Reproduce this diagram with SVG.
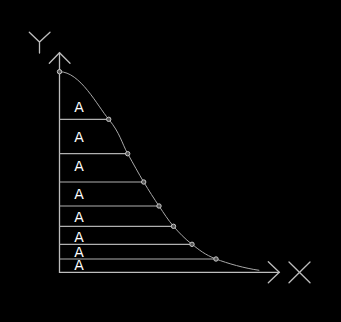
<svg xmlns="http://www.w3.org/2000/svg" width="341" height="322" viewBox="0 0 341 322">
<style>
.ax{stroke:#bdbdbd;stroke-width:1.3;fill:none;stroke-linecap:round}
.st{stroke:#b0b0b0;stroke-width:1.2;fill:none}
.cv{stroke:#a8a8a8;stroke-width:1;fill:none}
.pt{stroke:#c8c8c8;stroke-width:1;fill:#555}
.lb{font-family:"DejaVu Sans",sans-serif;font-size:14px;fill:#ffffff;text-anchor:middle}
</style>
<rect width="341" height="322" fill="#000"/>
<g id="axes">
<path class="ax" d="M59.5,52.7 V272.3 H279.3"/>
<path class="ax" d="M49.3,63.3 L59.5,52.7 L70,63.3"/>
<path class="ax" d="M268.3,261.7 L279.3,272.3 L268.3,282.7"/>
<path class="ax" d="M29.3,32.3 L39.5,42 L50,32.3 M39.5,42 V53"/>
<path class="ax" d="M289,262 L310,282.7 M310,262 L289,282.7"/>
</g>
<g id="strips">
<path class="st" d="M59.5,119.3H108.7 M59.5,153.7H127.7 M59.5,182H143.7 M59.5,206H159 M59.5,226.3H173.5 M59.5,244.3H192 M59.5,259H216"/>
</g>
<g id="curve">
<path class="cv" d="M59.5,71.7 C80,71.7 97.3,105.6 108.7,119.3 C120.07,132.97 121.87,143.25 127.7,153.7 C133.53,164.15 138.48,173.28 143.7,182 C148.92,190.72 154.03,198.62 159,206 C163.97,213.38 168,219.92 173.5,226.3 C179,232.68 184.92,238.85 192,244.3 C199.08,249.75 204.78,254.67 216,259 C227.22,263.33 245,268.4 259.3,270.3"/>
<circle class="pt" cx="59.5" cy="71.7" r="2.2"/>
<circle class="pt" cx="108.7" cy="119.3" r="2.2"/>
<circle class="pt" cx="127.7" cy="153.7" r="2.2"/>
<circle class="pt" cx="143.7" cy="182" r="2.2"/>
<circle class="pt" cx="159" cy="206" r="2.2"/>
<circle class="pt" cx="173.5" cy="226.3" r="2.2"/>
<circle class="pt" cx="192" cy="244.3" r="2.2"/>
<circle class="pt" cx="216" cy="259" r="2.2"/>
</g>
<g id="labels">
<text class="lb" x="79" y="111.7">A</text>
<text class="lb" x="79" y="141.5">A</text>
<text class="lb" x="79" y="171">A</text>
<text class="lb" x="79" y="198.5">A</text>
<text class="lb" x="79" y="221.5">A</text>
<text class="lb" x="79" y="242">A</text>
<text class="lb" x="79" y="256.5">A</text>
<text class="lb" x="79" y="270">A</text>
</g>
</svg>
